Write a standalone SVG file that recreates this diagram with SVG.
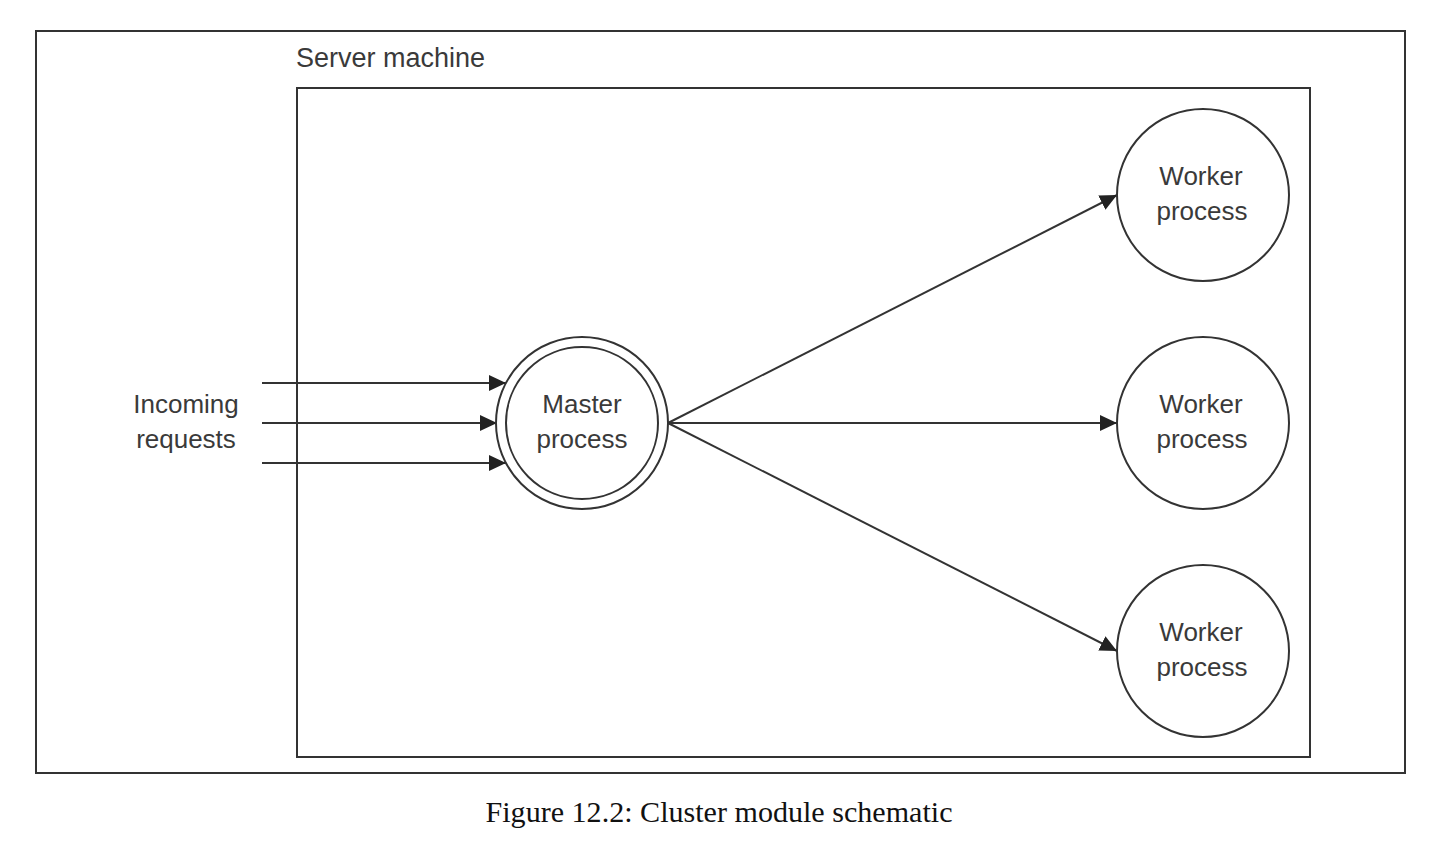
<svg xmlns="http://www.w3.org/2000/svg" width="1438" height="850" viewBox="0 0 1438 850">
<style>
.lbl{font-family:"Liberation Sans",Arial,sans-serif;font-size:26px;fill:#3a3a3a;text-anchor:middle}
.frame{fill:none;stroke:#333;stroke-width:2}
.node{fill:#fff;stroke:#333;stroke-width:2}
.conn{fill:none;stroke:#333;stroke-width:2;marker-end:url(#arr)}
.cap{font-family:"Liberation Serif","DejaVu Serif",serif;font-size:29px;fill:#111;text-anchor:middle}
</style>
<defs>
<marker id="arr" markerUnits="userSpaceOnUse" markerWidth="18" markerHeight="16" viewBox="0 0 18 16" refX="17" refY="8" orient="auto">
<path d="M0,0 L17,8 L0,16 Z" fill="#222"/>
</marker>
</defs>
<rect width="1438" height="850" fill="#fff"/>
<rect id="outer-frame" class="frame" x="36" y="31" width="1369" height="742"/>
<g id="server-machine">
<rect class="frame" x="297" y="88" width="1013" height="669"/>
<text class="lbl" x="296" y="67" style="text-anchor:start;font-size:27px">Server machine</text>
</g>
<g id="incoming">
<text class="lbl" x="186" y="413">Incoming</text>
<text class="lbl" x="186" y="448">requests</text>
</g>
<g id="connectors">
<line class="conn" x1="262" y1="383" x2="506" y2="383"/>
<line class="conn" x1="262" y1="423" x2="497" y2="423"/>
<line class="conn" x1="262" y1="463" x2="506" y2="463"/>
<line class="conn" x1="668" y1="423" x2="1117" y2="195"/>
<line class="conn" x1="668" y1="423" x2="1117" y2="423"/>
<line class="conn" x1="668" y1="423" x2="1117" y2="651"/>
</g>
<g id="master">
<circle class="node" cx="582" cy="423" r="86"/>
<circle class="node" cx="582" cy="423" r="76"/>
<text class="lbl" x="582" y="413">Master</text>
<text class="lbl" x="582" y="448">process</text>
</g>
<g id="worker1">
<circle class="node" cx="1203" cy="195" r="86"/>
<text class="lbl" x="1201" y="185">Worker</text>
<text class="lbl" x="1202" y="220">process</text>
</g>
<g id="worker2">
<circle class="node" cx="1203" cy="423" r="86"/>
<text class="lbl" x="1201" y="413">Worker</text>
<text class="lbl" x="1202" y="448">process</text>
</g>
<g id="worker3">
<circle class="node" cx="1203" cy="651" r="86"/>
<text class="lbl" x="1201" y="641">Worker</text>
<text class="lbl" x="1202" y="676">process</text>
</g>
<text id="caption" class="cap" x="719" y="822" textLength="467" lengthAdjust="spacingAndGlyphs">Figure 12.2: Cluster module schematic</text>
</svg>
